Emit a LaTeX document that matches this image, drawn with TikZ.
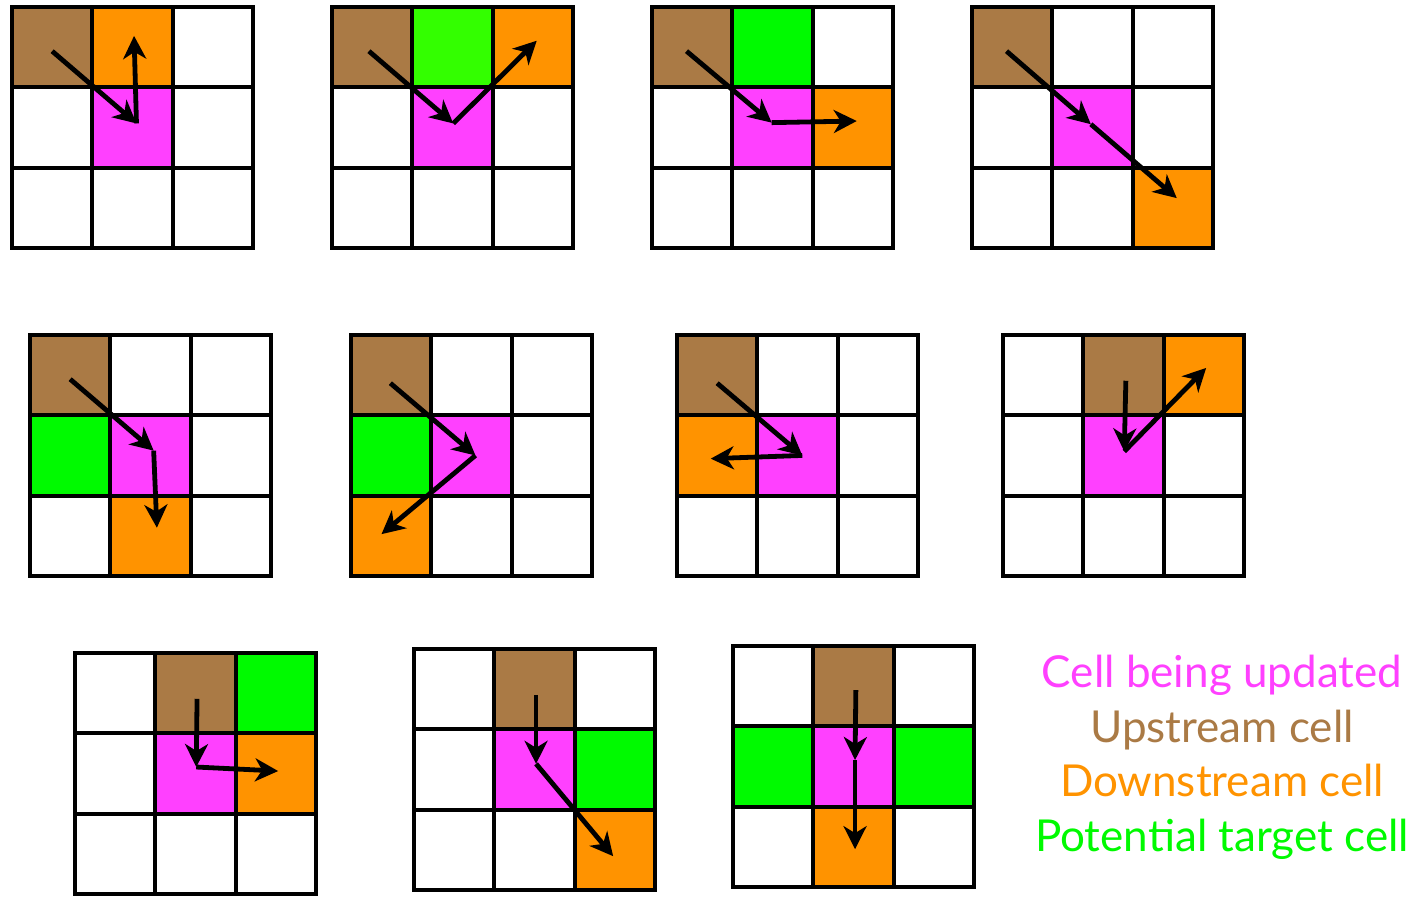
\documentclass[tikz,border=0pt]{standalone}
\usepackage{fontspec}
\setmainfont{Lato}
\usetikzlibrary{arrows.meta,positioning}

\definecolor{curcell}{HTML}{FF40FF}
\definecolor{upcell}{HTML}{AA7A45}
\definecolor{downcell}{HTML}{FF9300}
\definecolor{targetcell}{HTML}{00FA00}
\definecolor{targetalt}{HTML}{33FF00}

\tikzset{
  gridline/.style={line width=4pt,line cap=square},
  flowarrow/.style={line width=4.8pt,-{Stealth[length=23pt,width=23pt,inset=7pt]}},
  legend/.style={font=\fontsize{44}{52}\selectfont,anchor=base},
}

\begin{document}
\begin{tikzpicture}[x=1pt,y=-1pt]
\useasboundingbox (0,0) rectangle (1414,901);

% Row 1
% G1: downstream to the north
\begin{scope}[xshift=12pt,yshift=-7pt,x=80.3pt,y=-80.3pt]
  \foreach \c/\r/\col in {0/0/upcell,1/0/downcell,1/1/curcell}
    \fill[\col] (\c,\r) rectangle ++(1,1);
  \path (0.5,0.55) coordinate (g1s) (1.55,1.45) coordinate (g1m) (1.52,0.36) coordinate (g1t);
  \draw[flowarrow] (g1s) -- (g1m);
  \draw[flowarrow] (g1m) -- (g1t);
\end{scope}

% G2: downstream to the north-east
\begin{scope}[xshift=332pt,yshift=-7pt,x=80.3pt,y=-80.3pt]
  \foreach \c/\r/\col in {0/0/upcell,1/0/targetalt,2/0/downcell,1/1/curcell}
    \fill[\col] (\c,\r) rectangle ++(1,1);
  \path (0.46,0.55) coordinate (g2s) (1.51,1.45) coordinate (g2m) (2.55,0.42) coordinate (g2t);
  \draw[flowarrow] (g2s) -- (g2m);
  \draw[flowarrow] (g2m) -- (g2t);
\end{scope}

% G3: downstream to the east
\begin{scope}[xshift=652pt,yshift=-7pt,x=80.3pt,y=-80.3pt]
  \foreach \c/\r/\col in {0/0/upcell,1/0/targetcell,1/1/curcell,2/1/downcell}
    \fill[\col] (\c,\r) rectangle ++(1,1);
  \path (0.43,0.55) coordinate (g3s) (1.49,1.44) coordinate (g3m) (2.55,1.42) coordinate (g3t);
  \draw[flowarrow] (g3s) -- (g3m);
  \draw[flowarrow] (g3m) -- (g3t);
\end{scope}

% G4: downstream to the south-east
\begin{scope}[xshift=972pt,yshift=-7pt,x=80.3pt,y=-80.3pt]
  \foreach \c/\r/\col in {0/0/upcell,1/1/curcell,2/2/downcell}
    \fill[\col] (\c,\r) rectangle ++(1,1);
  \path (0.43,0.55) coordinate (g4s) (1.48,1.46) coordinate (g4m) (2.55,2.38) coordinate (g4t);
  \draw[flowarrow] (g4s) -- (g4m);
  \draw[flowarrow] (g4m) -- (g4t);
\end{scope}

% Row 2
% G5: downstream to the south
\begin{scope}[xshift=30pt,yshift=-335pt,x=80.3pt,y=-80.3pt]
  \foreach \c/\r/\col in {0/0/upcell,0/1/targetcell,1/1/curcell,1/2/downcell}
    \fill[\col] (\c,\r) rectangle ++(1,1);
  \path (0.5,0.55) coordinate (g5s) (1.54,1.44) coordinate (g5m) (1.58,2.40) coordinate (g5t);
  \draw[flowarrow] (g5s) -- (g5m);
  \draw[flowarrow] (g5m) -- (g5t);
\end{scope}

% G6: downstream to the south-west
\begin{scope}[xshift=351pt,yshift=-335pt,x=80.3pt,y=-80.3pt]
  \foreach \c/\r/\col in {0/0/upcell,0/1/targetcell,1/1/curcell,0/2/downcell}
    \fill[\col] (\c,\r) rectangle ++(1,1);
  \path (0.49,0.60) coordinate (g6s) (1.55,1.50) coordinate (g6m) (0.38,2.48) coordinate (g6t);
  \draw[flowarrow] (g6s) -- (g6m);
  \draw[flowarrow] (g6m) -- (g6t);
\end{scope}

% G7: downstream to the west
\begin{scope}[xshift=677pt,yshift=-335pt,x=80.3pt,y=-80.3pt]
  \foreach \c/\r/\col in {0/0/upcell,0/1/downcell,1/1/curcell}
    \fill[\col] (\c,\r) rectangle ++(1,1);
  \path (0.5,0.6) coordinate (g7s) (1.56,1.5) coordinate (g7m) (0.42,1.54) coordinate (g7t);
  \draw[flowarrow] (g7s) -- (g7m);
  \draw[flowarrow] (g7m) -- (g7t);
\end{scope}

% G8: upstream north, downstream north-east
\begin{scope}[xshift=1003pt,yshift=-335pt,x=80.3pt,y=-80.3pt]
  \foreach \c/\r/\col in {1/0/upcell,2/0/downcell,1/1/curcell}
    \fill[\col] (\c,\r) rectangle ++(1,1);
  \path (1.53,0.57) coordinate (g8s) (1.51,1.45) coordinate (g8m) (2.53,0.41) coordinate (g8t);
  \draw[flowarrow] (g8s) -- (g8m);
  \draw[flowarrow] (g8m) -- (g8t);
\end{scope}

% Row 3
% G9: upstream north, downstream east
\begin{scope}[xshift=75pt,yshift=-653pt,x=80.3pt,y=-80.3pt]
  \foreach \c/\r/\col in {1/0/upcell,2/0/targetcell,1/1/curcell,2/1/downcell}
    \fill[\col] (\c,\r) rectangle ++(1,1);
  \path (1.52,0.57) coordinate (g9s) (1.51,1.42) coordinate (g9m) (2.53,1.47) coordinate (g9t);
  \draw[flowarrow] (g9s) -- (g9m);
  \draw[flowarrow] (g9m) -- (g9t);
\end{scope}

% G10: upstream north, downstream south-east
\begin{scope}[xshift=414pt,yshift=-649pt,x=80.3pt,y=-80.3pt]
  \foreach \c/\r/\col in {1/0/upcell,1/1/curcell,2/1/targetcell,2/2/downcell}
    \fill[\col] (\c,\r) rectangle ++(1,1);
  \path (1.52,0.57) coordinate (g10s) (1.52,1.43) coordinate (g10m) (2.48,2.58) coordinate (g10t);
  \draw[flowarrow] (g10s) -- (g10m);
  \draw[flowarrow] (g10m) -- (g10t);
\end{scope}

% G11: upstream north, downstream south
\begin{scope}[xshift=733pt,yshift=-646pt,x=80.3pt,y=-80.3pt]
  \foreach \c/\r/\col in {1/0/upcell,0/1/targetcell,1/1/curcell,2/1/targetcell,1/2/downcell}
    \fill[\col] (\c,\r) rectangle ++(1,1);
  \path (1.53,0.55) coordinate (g11s) (1.52,1.42) coordinate (g11m) (1.52,2.53) coordinate (g11t);
  \draw[flowarrow] (g11s) -- (g11m);
  \draw[flowarrow] (g11m) -- (g11t);
\end{scope}

% Grid lines
\foreach \gx/\gy in {12/7,332/7,652/7,972/7,30/335,351/335,677/335,1003/335,75/653,414/649,733/646} {
  \begin{scope}[xshift=\gx pt,yshift=-\gy pt,x=80.3pt,y=-80.3pt]
    \foreach \k in {1,2} {
      \draw[gridline] (\k,0) -- (\k,3);
      \draw[gridline] (0,\k) -- (3,\k);
    }
    \draw[gridline] (0,0) rectangle (3,3);
  \end{scope}
}

% Legend
\node[legend,text=curcell] (legcur) at (1222,687) {Cell being updated};
\node[legend,text=upcell] (legup) at (1222,742) {Upstream cell};
\node[legend,text=downcell] (legdown) at (1222,796) {Downstream cell};
\node[legend,text=targetcell] (legtarget) at (1222,851) {Potential target cell};
\end{tikzpicture}
\end{document}
